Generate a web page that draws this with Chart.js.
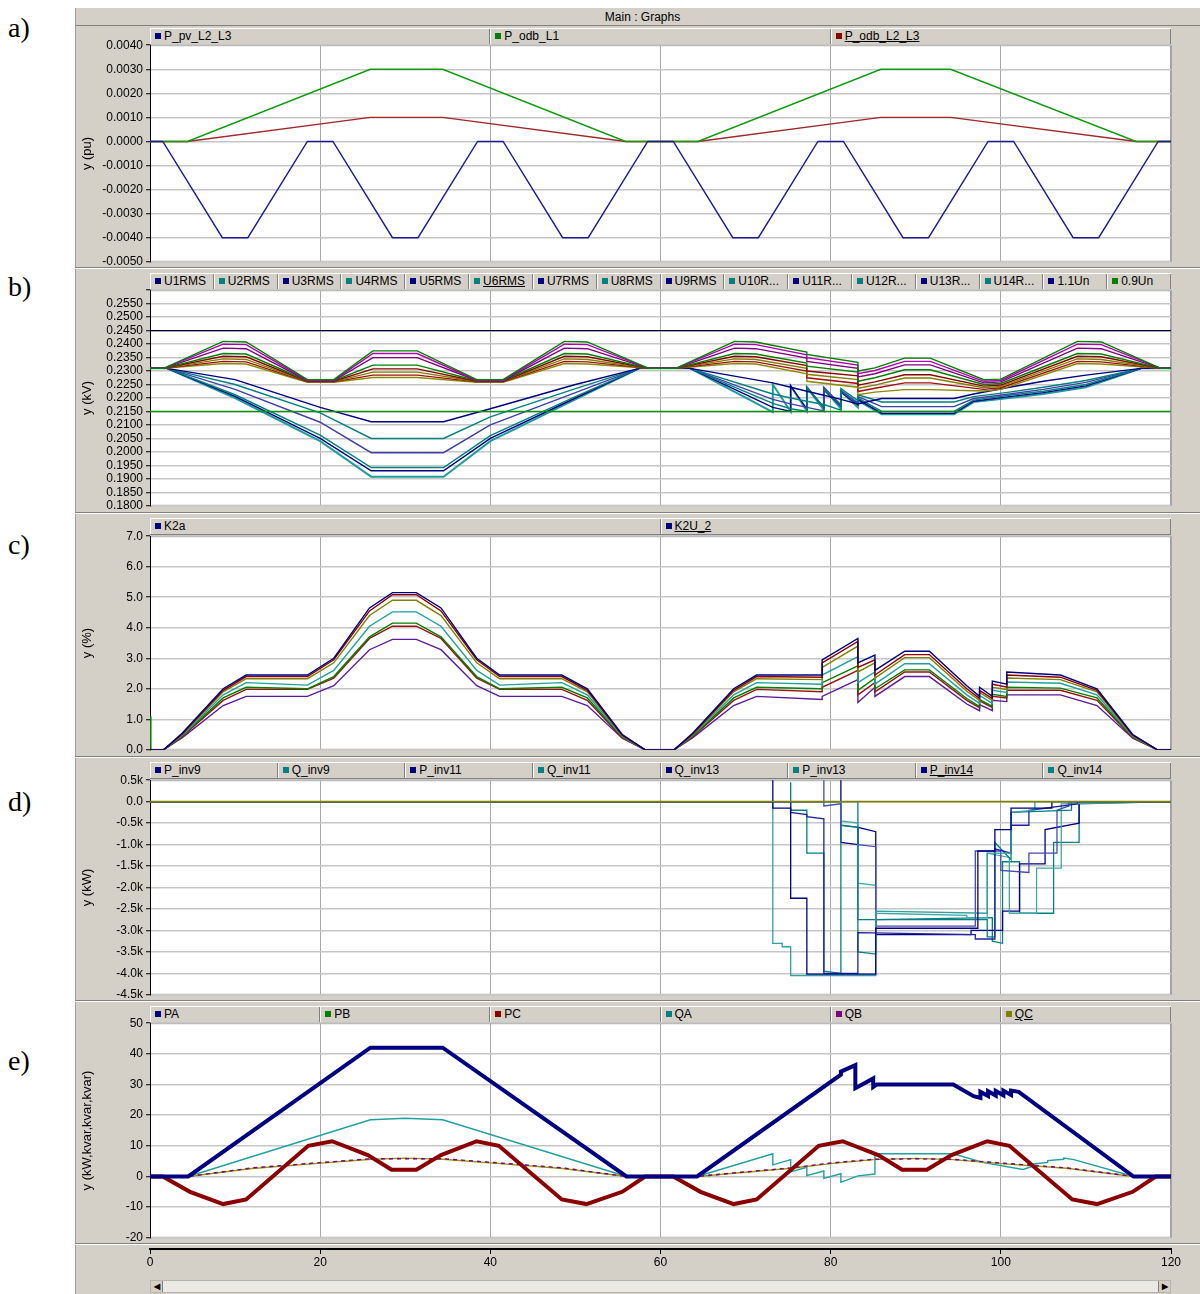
<!DOCTYPE html>
<html>
<head>
<meta charset="utf-8">
<script src="https://cdn.jsdelivr.net/npm/chart.js@4/dist/chart.umd.min.js"></script>
<style>
body{margin:0;background:#fff;width:1200px;height:1294px;position:relative;overflow:hidden;font-family:"Liberation Sans",Arial,sans-serif;}
#win{position:absolute;left:75px;top:8px;width:1125px;height:1286px;background:#d4d0c8;border-left:1px solid #a0a0a0;box-sizing:border-box;}
#titlebar{position:absolute;left:75px;top:8px;width:1125px;height:18px;border-bottom:1px solid #808080;font-size:12px;line-height:18px;text-align:center;box-sizing:border-box;padding-left:10px;}
.tag{position:absolute;left:8px;font-family:"Liberation Serif","Times New Roman",serif;font-size:28px;line-height:30px;}
.legend{position:absolute;left:150px;width:1021px;height:17px;display:flex;background:#d4d0c8;border-top:1px solid #fff;border-bottom:1px solid #808080;box-sizing:border-box;}
.cell{flex:1;border-left:1px solid #fff;border-right:1px solid #808080;font-size:12px;line-height:15px;padding-left:4px;white-space:nowrap;overflow:hidden;min-width:0;}
.cell i{display:inline-block;width:6px;height:6px;margin-right:3px;vertical-align:1px;}
canvas{position:absolute;left:75px;}
.sep{position:absolute;left:75px;width:1125px;height:1px;background:#808080;border-bottom:1px solid #fff;}
#scroll{position:absolute;left:150px;top:1280px;width:1021px;height:13px;background:#ebe9e4;border:1px solid #b8b4ac;box-sizing:border-box;}
#scroll b{position:absolute;top:0;width:11px;height:11px;background:#d4d0c8;font-size:8px;line-height:11px;text-align:center;border-right:1px solid #808080;}
</style>
</head>
<body>
<div id="win"></div>
<div id="titlebar">Main : Graphs</div>
<div class="tag" style="top:13px">a)</div>
<div class="tag" style="top:272px">b)</div>
<div class="tag" style="top:530px">c)</div>
<div class="tag" style="top:787px">d)</div>
<div class="tag" style="top:1046px">e)</div>
<div class="sep" style="top:267px"></div>
<div class="sep" style="top:512px"></div>
<div class="sep" style="top:756px"></div>
<div class="sep" style="top:1000px"></div>
<div class="sep" style="top:1243px"></div>
<div id="scroll"><b style="left:0">&#9664;</b><b style="right:0;border-right:none;border-left:1px solid #808080">&#9654;</b></div>
<script>
Chart.defaults.font.family = '"Liberation Sans", Arial, sans-serif';
Chart.defaults.font.size = 12;
Chart.defaults.color = '#000';

const navy = '#000080', teal = '#008080', green = '#008000', dred = '#8b0000',
      purple = '#800080', magenta = '#b000b0', olive = '#808000';

// ---------- a) ----------
const aPvX = [0, 1.5, 8.5, 11.5, 18.5, 21.5, 28.5, 31.5, 38.5, 41.5, 48.5, 51.5, 58.5, 61.5, 68.5, 71.5, 78.5, 81.5, 88.5, 91.5, 98.5, 101.5, 108.5, 111.5, 118.5, 120];
const aPv = [0, 0, -0.004, -0.004, 0, 0, -0.004, -0.004, 0, 0, -0.004, -0.004, 0, 0, -0.004, -0.004, 0, 0, -0.004, -0.004, 0, 0, -0.004, -0.004, 0, 0];
const aOdbX = [0, 4.4, 25.9, 34.4, 55.9, 64.4, 85.9, 94.1, 115.9, 120];
const aOdbL1 = [0, 0, 0.003, 0.003, 0, 0, 0.003, 0.003, 0, 0];
const aOdbL23 = [0, 0, 0.001, 0.001, 0, 0, 0.001, 0.001, 0, 0];
const aNames = ['P_pv_L2_L3', 'P_odb_L1', 'P_odb_L2_L3'];
const aMarks = [navy, green, dred];

// ---------- b) ----------
const bUpX = [0, 1.6, 8.6, 11.3, 18.5, 21.6, 26.2, 31.4, 38.4, 41.5, 48.7, 51.4, 58.6,
  61.8, 68.7, 71.2, 77.2, 77.2, 83.2, 83.2, 85.2, 88.7, 91.7, 98, 100, 109, 111.8, 118.8, 120];
const bU1 = [0.2310, 0.2310, 0.2410, 0.2408, 0.2268, 0.2268, 0.2375, 0.2375, 0.2268, 0.2268, 0.2410, 0.2408, 0.2310,
  0.2310, 0.2410, 0.2408, 0.2370, 0.2362, 0.2332, 0.2300, 0.2312, 0.2348, 0.2348, 0.2268, 0.2270, 0.2410, 0.2408, 0.2310, 0.2310];
const bU2 = [0.2310, 0.2310, 0.2400, 0.2398, 0.2266, 0.2266, 0.2365, 0.2365, 0.2266, 0.2266, 0.2400, 0.2398, 0.2310,
  0.2310, 0.2400, 0.2398, 0.2360, 0.2350, 0.2322, 0.2290, 0.2302, 0.2336, 0.2336, 0.2262, 0.2265, 0.2400, 0.2398, 0.2310, 0.2310];
const bU3 = [0.2310, 0.2310, 0.2385, 0.2383, 0.2265, 0.2265, 0.2350, 0.2350, 0.2265, 0.2265, 0.2385, 0.2383, 0.2310,
  0.2310, 0.2385, 0.2383, 0.2348, 0.2336, 0.2310, 0.2278, 0.2290, 0.2323, 0.2323, 0.2256, 0.2260, 0.2385, 0.2383, 0.2310, 0.2310];
const bU4 = [0.2310, 0.2310, 0.2365, 0.2363, 0.2264, 0.2264, 0.2322, 0.2322, 0.2264, 0.2264, 0.2365, 0.2363, 0.2310,
  0.2310, 0.2365, 0.2363, 0.2330, 0.2318, 0.2296, 0.2262, 0.2275, 0.2305, 0.2305, 0.2250, 0.2254, 0.2365, 0.2363, 0.2310, 0.2310];
const bU5 = [0.2310, 0.2310, 0.2355, 0.2353, 0.2262, 0.2262, 0.2308, 0.2308, 0.2262, 0.2262, 0.2355, 0.2353, 0.2310,
  0.2310, 0.2355, 0.2353, 0.2320, 0.2300, 0.2282, 0.2248, 0.2260, 0.2286, 0.2286, 0.2244, 0.2248, 0.2355, 0.2353, 0.2310, 0.2310];
const bU6 = [0.2310, 0.2310, 0.2345, 0.2343, 0.2261, 0.2261, 0.2296, 0.2296, 0.2261, 0.2261, 0.2345, 0.2343, 0.2310,
  0.2310, 0.2345, 0.2343, 0.2310, 0.2288, 0.2268, 0.2236, 0.2248, 0.2274, 0.2274, 0.2238, 0.2243, 0.2345, 0.2343, 0.2310, 0.2310];
const bU7 = [0.2310, 0.2310, 0.2336, 0.2334, 0.2260, 0.2260, 0.2285, 0.2285, 0.2260, 0.2260, 0.2336, 0.2334, 0.2310,
  0.2310, 0.2336, 0.2334, 0.2300, 0.2275, 0.2254, 0.2224, 0.2236, 0.2256, 0.2256, 0.2232, 0.2238, 0.2336, 0.2334, 0.2310, 0.2310];
const bU8 = [0.2310, 0.2310, 0.2328, 0.2326, 0.2258, 0.2258, 0.2276, 0.2276, 0.2258, 0.2258, 0.2328, 0.2326, 0.2310,
  0.2310, 0.2328, 0.2326, 0.2290, 0.2262, 0.2240, 0.2212, 0.2222, 0.2231, 0.2231, 0.2226, 0.2232, 0.2328, 0.2326, 0.2310, 0.2310];

const bLoX = [0, 2, 10, 20, 26, 34.5, 40, 50, 57.5,
  63.5, 73.2, 73.2, 75.3, 75.3, 77.2, 77.2, 79.2, 79.2, 81.2, 81.2, 83.2, 83.2, 86, 94.5, 96.8, 101, 105, 110, 116.5, 120];
const bU9 = [0.2310, 0.2310, 0.2268, 0.2165, 0.2112, 0.2112, 0.2160, 0.2250, 0.2310,
  0.2310, 0.2256, 0.2256, 0.2240, 0.2240, 0.2225, 0.2225, 0.2210, 0.2210, 0.2195, 0.2195, 0.2178, 0.2178, 0.2198, 0.2198, 0.2215, 0.2240, 0.2262, 0.2285, 0.2310, 0.2310];
const bU10 = [0.2310, 0.2310, 0.2250, 0.2145, 0.2050, 0.2050, 0.2130, 0.2235, 0.2310,
  0.2310, 0.2215, 0.2215, 0.2200, 0.2200, 0.2188, 0.2188, 0.2176, 0.2176, 0.2155, 0.2235, 0.2190, 0.2212, 0.2185, 0.2185, 0.2205, 0.2222, 0.2240, 0.2265, 0.2310, 0.2310];
const bU11 = [0.2310, 0.2310, 0.2232, 0.2110, 0.1997, 0.1997, 0.2100, 0.2220, 0.2310,
  0.2310, 0.2195, 0.2195, 0.2178, 0.2178, 0.2165, 0.2165, 0.2152, 0.2240, 0.2175, 0.2228, 0.2182, 0.2205, 0.2168, 0.2168, 0.2198, 0.2215, 0.2232, 0.2258, 0.2310, 0.2310];
const bU12 = [0.2310, 0.2310, 0.2212, 0.2062, 0.1942, 0.1942, 0.2060, 0.2205, 0.2310,
  0.2310, 0.2180, 0.2180, 0.2160, 0.2160, 0.2150, 0.2240, 0.2165, 0.2232, 0.2172, 0.2225, 0.2178, 0.2200, 0.2150, 0.2150, 0.2192, 0.2210, 0.2225, 0.2250, 0.2310, 0.2310];
const bU13 = [0.2310, 0.2310, 0.2206, 0.2050, 0.1930, 0.1930, 0.2050, 0.2200, 0.2310,
  0.2310, 0.2165, 0.2165, 0.2150, 0.2245, 0.2160, 0.2240, 0.2165, 0.2230, 0.2170, 0.2222, 0.2175, 0.2195, 0.2143, 0.2143, 0.2188, 0.2205, 0.2220, 0.2245, 0.2310, 0.2310];
const bU14 = [0.2310, 0.2310, 0.2200, 0.2040, 0.1908, 0.1908, 0.2040, 0.2195, 0.2310,
  0.2310, 0.2148, 0.2250, 0.2150, 0.2245, 0.2152, 0.2240, 0.2155, 0.2235, 0.2160, 0.2225, 0.2165, 0.2190, 0.2140, 0.2140, 0.2185, 0.2200, 0.2215, 0.2240, 0.2310, 0.2310];
const bLimX = [0, 120];
const bHigh = [0.2450, 0.2450];
const bLow = [0.2150, 0.2150];
const bNames = ['U1RMS', 'U2RMS', 'U3RMS', 'U4RMS', 'U5RMS', 'U6RMS', 'U7RMS', 'U8RMS', 'U9RMS', 'U10R...', 'U11R...', 'U12R...', 'U13R...', 'U14R...', '1.1Un', '0.9Un'];
const bMarks = [navy, teal, navy, teal, navy, teal, navy, teal, navy, teal, navy, teal, navy, teal, navy, green];

// ---------- c) ----------
const cX = [0, 0.1, 1.6, 3.8, 8.6, 11.3, 18.5, 21.6, 25.8, 28.5, 31.3, 34.2, 38.4, 41.1, 48.4, 51.4, 55.5, 58.2,
  61.6, 63.8, 68.6, 71.3, 79, 79, 83.2, 83.2, 85.2, 85.2, 88.7, 91.6, 96, 97.5, 97.5, 99, 99, 100.7, 100.7, 107, 111.3, 115.5, 118.4, 120];
const cK1 = [0, 0, 0, 0.55, 2.00, 2.45, 2.45, 3.00, 4.65, 5.15, 5.15, 4.65, 3.00, 2.45, 2.45, 2.00, 0.50, 0,
  0, 0.55, 2.00, 2.45, 2.45, 2.95, 3.65, 2.85, 3.10, 2.60, 3.23, 3.23, 2.10, 1.75, 2.05, 1.75, 2.25, 2.15, 2.55, 2.45, 2.00, 0.50, 0, 0];
const cK2 = [0, 0, 0, 0.52, 1.95, 2.40, 2.40, 2.95, 4.55, 5.08, 5.08, 4.55, 2.95, 2.40, 2.40, 1.95, 0.48, 0,
  0, 0.52, 1.95, 2.40, 2.38, 2.85, 3.55, 2.70, 2.95, 2.45, 3.12, 3.12, 2.00, 1.68, 1.95, 1.68, 2.15, 2.05, 2.45, 2.38, 1.95, 0.48, 0, 0];
const cK3 = [0, 0, 0, 0.50, 1.90, 2.33, 2.33, 2.85, 4.40, 4.90, 4.90, 4.40, 2.85, 2.33, 2.33, 1.90, 0.46, 0,
  0, 0.50, 1.90, 2.33, 2.30, 2.70, 3.40, 2.55, 2.85, 2.35, 3.02, 3.02, 1.92, 1.62, 1.88, 1.62, 2.05, 1.98, 2.35, 2.30, 1.90, 0.46, 0, 0];
const cK4 = [0, 0, 0, 0.48, 1.80, 2.20, 2.12, 2.60, 4.05, 4.52, 4.52, 4.05, 2.60, 2.12, 2.20, 1.80, 0.44, 0,
  0, 0.48, 1.80, 2.20, 2.15, 2.45, 3.05, 2.20, 2.55, 2.15, 2.82, 2.82, 1.80, 1.52, 1.78, 1.52, 1.95, 1.88, 2.22, 2.18, 1.80, 0.44, 0, 0];
const cK5 = [1.1, 0, 0, 0.45, 1.70, 2.05, 2.00, 2.40, 3.70, 4.15, 4.15, 3.70, 2.40, 2.00, 2.05, 1.70, 0.42, 0,
  0, 0.45, 1.70, 2.05, 2.00, 2.20, 2.75, 1.95, 2.35, 2.00, 2.62, 2.62, 1.68, 1.42, 1.65, 1.42, 1.82, 1.75, 2.05, 2.02, 1.70, 0.42, 0, 0];
const cK6 = [0, 0, 0, 0.44, 1.62, 1.98, 1.98, 2.35, 3.65, 4.05, 4.05, 3.65, 2.35, 1.98, 1.98, 1.62, 0.40, 0,
  0, 0.44, 1.62, 1.98, 1.90, 2.05, 2.60, 1.80, 2.20, 1.90, 2.55, 2.55, 1.62, 1.38, 1.60, 1.38, 1.75, 1.70, 1.95, 1.95, 1.62, 0.40, 0, 0];
const cK7 = [0, 0, 0, 0.40, 1.45, 1.75, 1.75, 2.10, 3.28, 3.62, 3.62, 3.28, 2.10, 1.75, 1.75, 1.45, 0.38, 0,
  0, 0.40, 1.45, 1.75, 1.65, 1.75, 2.30, 1.55, 2.05, 1.75, 2.40, 2.40, 1.50, 1.28, 1.48, 1.28, 1.62, 1.58, 1.80, 1.80, 1.45, 0.38, 0, 0];
const cNames = ['K2a', 'K2U_2'];
const cMarks = [navy, navy];

// ---------- d) ----------  (x, kW/1000) steps
const dPinv9 = [[0,0],[73.2,0],[73.2,0.6],[73.2,-0.15],[75.3,-0.15],[75.3,-2.25],[77.2,-2.25],[77.2,-4.02],[85.3,-4.02],[85.3,-2.95],[97.3,-2.95],[97.3,-1.15],[99.3,-1.15],[99.3,-0.65],[101.2,-0.65],[101.2,-0.15],[106,-0.15],[106,0],[120,0]];
const dQinv9 = [[0,0],[73.2,0],[73.2,-3.30],[74.3,-3.30],[74.3,-3.38],[75.3,-3.38],[75.3,-4.05],[85.3,-4.05],[85.3,-2.55],[98.4,-2.6],[98.4,-1.2],[101.2,-1.2],[101.2,-0.25],[104,-0.2],[104,0],[120,0]];
const dPinv11 = [[0,0],[75.3,0],[75.3,-0.25],[77.2,-0.3],[77.2,-0.35],[79.2,-0.4],[79.2,-4.0],[83.2,-4.0],[83.2,-3.05],[97,-3.1],[97,-3.2],[99.3,-3.2],[99.3,-1.1],[101.2,-1.2],[101.2,-0.55],[103.3,-0.55],[103.3,-0.2],[109,-0.05],[109,0],[120,0]];
const dQinv11 = [[0,0],[75.3,0],[75.3,0.45],[75.3,-0.2],[77.2,-0.2],[77.2,-1.2],[79.2,-1.2],[79.2,-3.95],[81.2,-4.0],[81.2,-0.55],[83.2,-0.6],[83.2,-2.75],[98.4,-2.75],[98.4,-3.15],[99.3,-3.15],[99.3,-0.95],[101.2,-1.35],[101.2,-0.25],[108.3,-0.2],[108.3,0],[120,0]];
const dQinv13 = [[0,0],[79.2,0],[79.2,0.55],[79.2,-0.1],[81.2,-0.05],[81.2,-0.55],[83.2,-0.6],[83.2,-1.0],[85.3,-1.05],[85.3,-2.9],[97,-2.9],[97,-1.15],[100,-1.15],[100,-1.6],[103.3,-1.65],[103.3,-1.2],[106.6,-1.2],[106.6,-0.2],[108,-0.1],[108,0],[120,0]];
const dPinv13 = [[0,0],[81.2,0],[81.2,-0.45],[83.2,-0.5],[83.2,-1.9],[85.3,-1.95],[85.3,-2.6],[96,-2.65],[96,-2.7],[98.4,-2.7],[98.4,-1.2],[101,-1.3],[101,-2.6],[104.2,-2.6],[104.2,-1.55],[107.1,-1.55],[107.1,-0.05],[120,0]];
const dPinv14 = [[0,0],[81.2,0],[81.2,0.6],[81.2,-0.95],[83.2,-1.0],[83.2,-0.6],[85.3,-0.7],[85.3,-3.1],[96.5,-3.1],[96.5,-3.0],[100.2,-3.0],[100.2,-2.55],[102.2,-2.55],[102.2,-1.45],[105.2,-1.45],[105.2,-0.65],[109.2,-0.5],[109.2,0],[120,0]];
const dQinv14 = [[0,0],[83.2,0],[83.2,-3.5],[85.3,-3.55],[85.3,-2.75],[99,-2.7],[99,-3.25],[100.2,-3.3],[100.2,-1.4],[102.2,-1.4],[102.2,-2.6],[106.2,-2.6],[106.2,-0.95],[109.2,-0.95],[109.2,-0.05],[120,0]];
const dZero = [[0,0],[120,0]];
const dNames = ['P_inv9', 'Q_inv9', 'P_inv11', 'Q_inv11', 'Q_inv13', 'P_inv13', 'P_inv14', 'Q_inv14'];
const dMarks = [navy, teal, navy, teal, navy, teal, navy, teal];

// ---------- e) ----------
const ePAX = [0, 4.5, 25.9, 34.4, 56, 64.3, 81.2, 81.2, 82.9, 82.9, 85, 85, 85.4, 94.4, 96.8, 97.6, 97.6, 98.5, 98.5, 99.4, 99.4, 100.3, 100.3, 101.2, 101.2, 102.1, 115.6, 120];
const ePA = [0, 0, 42, 42, 0, 0, 33.2, 34.2, 36.3, 28.8, 32.0, 29.2, 30.0, 30.0, 26.2, 25.6, 27.6, 26.3, 27.8, 26.4, 27.9, 26.5, 28.0, 26.6, 28.0, 27.6, 0, 0];
const ePCX = [0, 1.5, 4.7, 8.6, 11.3, 18.6, 21.4, 25.6, 28.4, 31.3, 34.2, 38.4, 41, 48.4, 51.3, 55.5, 58.2,
  61.5, 64.7, 68.6, 71.3, 78.6, 81.4, 85.6, 88.4, 91.3, 94.2, 98.4, 101, 108.4, 111.3, 115.5, 118.2, 120];
const ePC = [0, 0, -5, -9, -7.5, 10, 11.5, 7, 2.2, 2.2, 7, 11.5, 10, -7.5, -9, -5, 0,
  0, -5, -9, -7.5, 10, 11.5, 7, 2.2, 2.2, 7, 11.5, 10, -7.5, -9, -5, 0, 0];
const eQAX = [0, 4.5, 25.9, 30, 34.4, 56, 64.3, 73.2, 73.2, 75.3, 75.3, 77.2, 77.2, 79.2, 79.2, 81.2, 81.2, 83.2, 85.2, 85.2, 94.4, 98, 102.6, 103.6, 103.6, 105.5, 105.5, 107.4, 107.4, 108.6, 115.6, 120];
const eQA = [0, 0, 18.5, 19.0, 18.5, 0, 0, 7.4, 3.8, 5.5, 1.5, 3.0, 0.3, 1.8, -0.6, 0.9, -1.9, 0.2, 0.8, 7.4, 7.4, 4.5, 2.3, 3.2, 4.0, 4.6, 5.2, 5.6, 6.0, 5.5, 0, 0];
const eQX = [0, 4.5, 12, 19, 26, 30, 34.4, 41.5, 48.5, 56, 64.3, 70, 75.4, 80, 85, 90, 94.4, 100, 107.7, 115.6, 120];
const eQB = [0, 0, 2.8, 4.3, 5.8, 5.8, 5.8, 4.3, 2.8, 0, 0, 1.5, 2.8, 4.4, 5.6, 5.8, 5.6, 4.4, 2.8, 0, 0];
const eQC = [0, 0, 2.6, 4.1, 5.6, 6.0, 5.6, 4.1, 2.6, 0, 0, 1.4, 2.7, 4.2, 5.5, 5.9, 5.5, 4.2, 2.7, 0, 0];
const ePB = [0, 0, 2.7, 4.2, 5.7, 5.9, 5.7, 4.2, 2.7, 0, 0, 1.45, 2.75, 4.3, 5.55, 5.85, 5.55, 4.3, 2.75, 0, 0];
const eNames = ['PA', 'PB', 'PC', 'QA', 'QB', 'QC'];
const eMarks = [navy, green, dred, teal, purple, olive];

const xTicks = [0, 20, 40, 60, 80, 100, 120];

// ---------- helpers ----------
function pts(xs, ys) { return xs.map((x, i) => ({x: x, y: ys[i]})); }
function pairs(list) { return list.map(p => ({x: p[0], y: p[1]})); }
function line(label, data, color, width, dash) {
  return {label: label, data: data, borderColor: color, borderWidth: width || 1.4,
    borderDash: dash || [], pointRadius: 0, tension: 0, fill: false};
}

function legend(top, names, marks, sel) {
  const bar = document.createElement('div');
  bar.className = 'legend';
  bar.style.top = top + 'px';
  names.forEach((n, i) => {
    const c = document.createElement('div');
    c.className = 'cell';
    c.innerHTML = '<i style="background:' + marks[i] + '"></i><span' +
      (i === sel ? ' style="text-decoration:underline"' : '') + '>' + n + '</span>';
    bar.appendChild(c);
  });
  document.body.appendChild(bar);
}

const plotFrame = {
  id: 'plotFrame',
  beforeDraw(chart) {
    const a = chart.chartArea, ctx = chart.ctx;
    if (!chart.options.plugins.plotFrame || chart.options.plugins.plotFrame.off) return;
    ctx.save();
    ctx.fillStyle = '#fff';
    ctx.fillRect(a.left, a.top, a.right - a.left, a.bottom - a.top);
    ctx.strokeStyle = '#a0a0a0';
    ctx.strokeRect(a.left + 0.5, a.top + 0.5, a.right - a.left - 1, a.bottom - a.top - 1);
    ctx.restore();
  }
};

function panel(top, h, yMin, yMax, step, fmt, title, datasets) {
  const cv = document.createElement('canvas');
  cv.width = 1125; cv.height = h; cv.style.top = top + 'px';
  document.body.appendChild(cv);
  return new Chart(cv, {
    type: 'line',
    data: {datasets: datasets},
    options: {
      responsive: false, animation: false, devicePixelRatio: 1,
      layout: {padding: {top: 10, bottom: 10, left: 0, right: 29}},
      plugins: {legend: {display: false}, tooltip: {enabled: false}, plotFrame: {}},
      scales: {
        x: {type: 'linear', min: 0, max: 120,
          afterBuildTicks(s) { s.ticks = xTicks.map(v => ({value: v})); },
          ticks: {display: false},
          grid: {color: '#a8a8a8', lineWidth: 1, drawTicks: false},
          border: {display: false},
          afterFit(s) { s.height = 0; }},
        y: {min: yMin, max: yMax,
          ticks: {stepSize: step, callback: fmt, color: '#000', padding: 3, autoSkip: false},
          grid: {color: '#c6c6c6', lineWidth: 1.5, tickLength: 4, tickColor: '#000', tickWidth: 1},
          border: {color: '#000', width: 1},
          title: {display: true, text: title, color: '#000', font: {size: 13}, padding: {top: 5, bottom: 0}},
          afterFit(s) { s.width = 75; }}
      }
    },
    plugins: [plotFrame]
  });
}

// ---------- legends ----------
legend(28, aNames, aMarks, 2);
legend(273, bNames, bMarks, 5);
legend(518, cNames, cMarks, 1);
legend(762, dNames, dMarks, 6);
legend(1006, eNames, eMarks, 5);

// ---------- charts ----------
panel(35, 237, -0.005, 0.004, 0.001, v => v.toFixed(4), 'y (pu)', [
  line('P_pv_L2_L3', pts(aPvX, aPv), '#1c1c90'),
  line('P_odb_L1', pts(aOdbX, aOdbL1), '#109a10'),
  line('P_odb_L2_L3', pts(aOdbX, aOdbL23), '#a02828')
]);

panel(280, 236, 0.18, 0.26, 0.005, v => Math.abs(v - 0.26) < 1e-9 ? '' : v.toFixed(4), 'y (kV)', [
  line('1.1Un', pts(bLimX, bHigh), '#000030', 1.3),
  line('0.9Un', pts(bLimX, bLow), '#109010', 1.3),
  line('U1RMS', pts(bUpX, bU1), green),
  line('U2RMS', pts(bUpX, bU2), magenta),
  line('U3RMS', pts(bUpX, bU3), purple),
  line('U4RMS', pts(bUpX, bU4), green),
  line('U5RMS', pts(bUpX, bU5), dred),
  line('U6RMS', pts(bUpX, bU6), olive),
  line('U7RMS', pts(bUpX, bU7), '#a01010'),
  line('U8RMS', pts(bUpX, bU8), '#8a8a00'),
  line('U9RMS', pts(bLoX, bU9), navy),
  line('U10RMS', pts(bLoX, bU10), teal),
  line('U11RMS', pts(bLoX, bU11), '#4040a8'),
  line('U12RMS', pts(bLoX, bU12), teal),
  line('U13RMS', pts(bLoX, bU13), navy),
  line('U14RMS', pts(bLoX, bU14), '#209c9c', 2)
]);

panel(526, 234, 0, 7, 1, v => v.toFixed(1), 'y (%)', [
  line('K2a 1', pts(cX, cK1), navy),
  line('K2a 2', pts(cX, cK2), dred),
  line('K2a 3', pts(cX, cK3), olive),
  line('K2U_2 4', pts(cX, cK4), '#20a0a0'),
  line('K2U_2 5', pts(cX, cK5), green),
  line('K2U_2 6', pts(cX, cK6), '#a01010'),
  line('K2U_2 7', pts(cX, cK7), '#5a1a9a')
]);

panel(770, 235, -4.5, 0.5, 0.5, v => Math.abs(v) < 1e-9 ? '0.0' : v.toFixed(1) + 'k', 'y (kW)', [
  line('zero', pairs(dZero), olive, 1.6),
  line('P_inv9', pairs(dPinv9), navy, 1.3),
  line('Q_inv9', pairs(dQinv9), '#30a0a0', 1.3),
  line('P_inv11', pairs(dPinv11), '#2020a0', 1.3),
  line('Q_inv11', pairs(dQinv11), teal, 1.3),
  line('Q_inv13', pairs(dQinv13), '#4848b0', 1.3),
  line('P_inv13', pairs(dPinv13), '#40a8a8', 1.3),
  line('P_inv14', pairs(dPinv14), navy, 1.3),
  line('Q_inv14', pairs(dQinv14), teal, 1.3)
]);

panel(1013, 235, -20, 50, 10, v => String(Math.round(v)), 'y (kW,kvar,kvar,kvar)', [
  line('PA', pts(ePAX, ePA), navy, 4),
  line('PC', pts(ePCX, ePC), dred, 4),
  line('QB', pts(eQX, eQB), purple, 1.4, [4, 4]),
  line('QC', pts(eQX, eQC), '#9a9a10', 1.4),
  line('QA', pts(eQAX, eQA), '#20a0a0', 1.4),
  line('PB', pts(eQX, ePB), green, 1.4, [2, 6])
]);

// shared x axis under panel e
(function () {
  const cv = document.createElement('canvas');
  cv.width = 1125; cv.height = 34; cv.style.top = '1240px';
  document.body.appendChild(cv);
  new Chart(cv, {
    type: 'line',
    data: {datasets: []},
    options: {
      responsive: false, animation: false, devicePixelRatio: 1,
      layout: {padding: {top: 5, bottom: 0, left: 75, right: 29}},
      plugins: {legend: {display: false}, tooltip: {enabled: false}},
      scales: {
        x: {type: 'linear', min: 0, max: 120,
          afterBuildTicks(s) { s.ticks = xTicks.map(v => ({value: v})); },
          ticks: {color: '#000', padding: 1, maxRotation: 0},
          grid: {drawOnChartArea: false, tickLength: 5, tickColor: '#000'},
          border: {color: '#000', width: 2},
          afterFit(s) { s.height = 25; }},
        y: {display: false, min: 0, max: 1}
      }
    }
  });
})();
</script>
</body>
</html>
